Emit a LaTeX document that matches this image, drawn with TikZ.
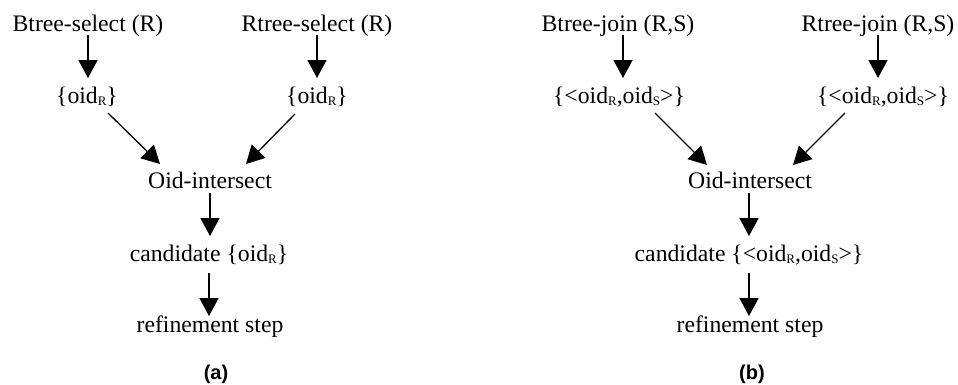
\documentclass[tikz,border=0pt]{standalone}
\usepackage{fontspec}
\setmainfont{Liberation Serif}
\newfontfamily\labfont{Liberation Sans}
\usetikzlibrary{arrows.meta}
\newcommand\subsc[1]{\raisebox{-2pt}{\fontsize{13}{13}\selectfont #1}}
\tikzset{
  lbl/.style={anchor=base,inner sep=0pt,font=\fontsize{23.7}{28}\selectfont},
  panellabel/.style={anchor=base,inner sep=0pt,font=\labfont\bfseries\fontsize{20}{24}\selectfont},
  arr/.style={line width=1.3pt,-{Triangle[width=19pt,length=18pt]}}
}
\begin{document}
\begin{tikzpicture}[x=1pt,y=-1pt]
\useasboundingbox (0,0) rectangle (958,384);
% panel (a)
\node[lbl] (b1) at (88,31) {Btree-select (R)};
\node[lbl] (r1) at (317,31) {Rtree-select (R)};
\node[lbl] (o1) at (87,103) {\{oid\subsc{R}\}};
\node[lbl] (o2) at (317,103) {\{oid\subsc{R}\}};
\node[lbl] (oi) at (210,188) {Oid-intersect};
\node[lbl] (cd) at (209,261) {candidate \{oid\subsc{R}\}};
\node[lbl] (rf) at (210,332) {refinement step};
\node[panellabel] (la) at (216,379) {(a)};
\draw[arr] ([yshift=-4pt]b1.base) -- ([xshift=1pt,yshift=25pt]o1.base);
\draw[arr] ([yshift=-4pt]r1.base) -- ([yshift=25pt]o2.base);
\draw[arr] ([xshift=21pt,yshift=-10pt]o1.base) -- ([xshift=-50pt,yshift=24pt]oi.base);
\draw[arr] ([xshift=-22pt,yshift=-11pt]o2.base) -- ([xshift=36pt,yshift=24pt]oi.base);
\draw[arr] ([yshift=-5pt]oi.base) -- ([xshift=1pt,yshift=25pt]cd.base);
\draw[arr] ([xshift=0pt,yshift=-12pt]cd.base) -- ([xshift=-1pt,yshift=16pt]rf.base);
% panel (b)
\node[lbl] (b2) at (618,31) {Btree-join (R,S)};
\node[lbl] (r2) at (878,31) {Rtree-join (R,S)};
\node[lbl] (o3) at (619,103) {\{<oid\subsc{R},oid\subsc{S}>\}};
\node[lbl] (o4) at (883,103) {\{<oid\subsc{R},oid\subsc{S}>\}};
\node[lbl] (oi2) at (750,188) {Oid-intersect};
\node[lbl] (cd2) at (749,261) {candidate \{<oid\subsc{R},oid\subsc{S}>\}};
\node[lbl] (rf2) at (750,332) {refinement step};
\node[panellabel] (lb) at (752,379) {(b)};
\draw[arr] ([xshift=5pt,yshift=-4pt]b2.base) -- ([xshift=4pt,yshift=25pt]o3.base);
\draw[arr] ([yshift=-4pt]r2.base) -- ([xshift=-5pt,yshift=25pt]o4.base);
\draw[arr] ([xshift=36pt,yshift=-10pt]o3.base) -- ([xshift=-43pt,yshift=23pt]oi2.base);
\draw[arr] ([xshift=-38pt,yshift=-10pt]o4.base) -- ([xshift=43pt,yshift=23pt]oi2.base);
\draw[arr] ([xshift=-1pt,yshift=-5pt]oi2.base) -- ([yshift=25pt]cd2.base);
\draw[arr] ([yshift=-12pt]cd2.base) -- ([xshift=-1pt,yshift=16pt]rf2.base);
\end{tikzpicture}
\end{document}
